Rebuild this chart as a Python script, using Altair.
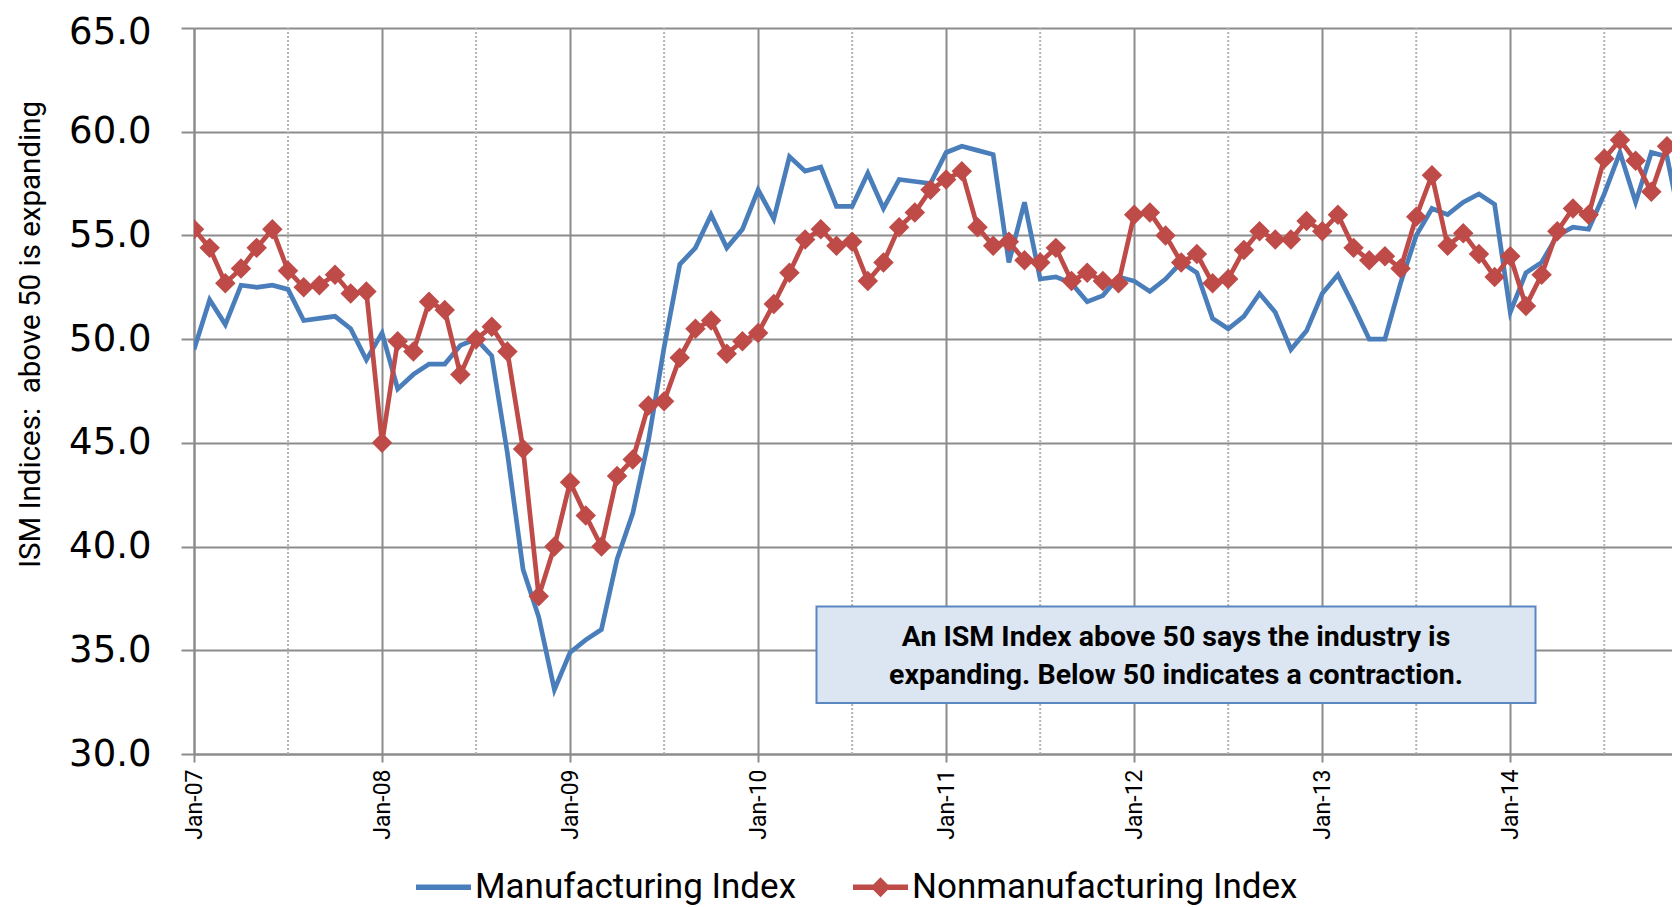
import altair as alt
import pandas as pd

# ---- data (monthly, Jan-2007 onward) ----
manufacturing = [
    49.5, 51.9, 50.7, 52.6, 52.5, 52.6, 52.4, 50.9, 51.0, 51.1, 50.5, 49.0,
    50.3, 47.6, 48.3, 48.8, 48.8, 49.7, 50.0, 49.2, 44.5, 38.9, 36.6, 33.1,
    34.9, 35.5, 36.0, 39.4, 41.6, 45.1, 49.6, 53.6, 54.4, 56.0, 54.4, 55.3,
    57.2, 55.8, 58.8, 58.1, 58.3, 56.4, 56.4, 58.0, 56.3, 57.7, 57.6, 57.5,
    59.0, 59.3, 59.1, 58.9, 53.7, 56.6, 52.9, 53.0, 52.7, 51.8, 52.1, 53.0,
    52.8, 52.3, 52.9, 53.7, 53.2, 51.0, 50.5, 51.1, 52.2, 51.3, 49.5, 50.4,
    52.2, 53.1, 51.6, 50.0, 50.0, 52.7, 55.0, 56.3, 56.0, 56.6, 57.0, 56.5,
    51.3, 53.2, 53.7, 55.0, 55.4, 55.3, 57.0, 59.0, 56.6, 59.0, 58.8, 55.1,
]
nonmanufacturing = [
    55.3, 54.4, 52.7, 53.4, 54.4, 55.3, 53.3, 52.5, 52.6, 53.1, 52.2, 52.3,
    45.0, 49.9, 49.4, 51.8, 51.4, 48.3, 50.0, 50.6, 49.4, 44.7, 37.6, 40.0,
    43.1, 41.5, 40.0, 43.4, 44.2, 46.8, 47.0, 49.1, 50.5, 50.9, 49.3, 49.9,
    50.3, 51.7, 53.2, 54.8, 55.3, 54.5, 54.7, 52.8, 53.7, 55.4, 56.1, 57.2,
    57.7, 58.1, 55.4, 54.5, 54.7, 53.8, 53.7, 54.4, 52.8, 53.2, 52.8, 52.7,
    56.0, 56.1, 55.0, 53.7, 54.1, 52.7, 52.9, 54.3, 55.2, 54.8, 54.8, 55.7,
    55.2, 56.0, 54.4, 53.8, 54.0, 53.4, 55.9, 57.9, 54.5, 55.1, 54.1, 53.0,
    54.0, 51.6, 53.1, 55.2, 56.3, 56.0, 58.7, 59.6, 58.6, 57.1, 59.3,
]
series_names = ["Manufacturing Index", "Nonmanufacturing Index"]
series_colors = ["#4A7EBB", "#BE4B48"]
x_tick_labels = ["Jan-07", "Jan-08", "Jan-09", "Jan-10", "Jan-11", "Jan-12", "Jan-13", "Jan-14"]
x_tick_months = [0, 12, 24, 36, 48, 60, 72, 84]          # month index of each January
mid_year_months = [6, 18, 30, 42, 54, 66, 78, 90]        # July dotted gridlines
y_ticks = [30, 35, 40, 45, 50, 55, 60, 65]
y_title = "ISM Indices:\u00a0 above 50 is expanding"
note_lines = ["An ISM Index above 50 says the industry is",
              "expanding. Below 50 indicates a contraction."]

rows = []
for i, v in enumerate(manufacturing):
    rows.append({"month": i, "series": series_names[0], "value": v})
for i, v in enumerate(nonmanufacturing):
    rows.append({"month": i, "series": series_names[1], "value": v})
df = pd.DataFrame(rows)
df_m = df[df.series == series_names[0]]
df_n = df[df.series == series_names[1]]
df_mid = pd.DataFrame({"month": mid_year_months})
df_note = pd.DataFrame({"note": [" ".join(note_lines)]})

GRID = "#8C8C8C"
label_js = "[" + ",".join("'%s'" % s for s in x_tick_labels) + "]"

PLOT_W = 1478
x_scale = alt.Scale(domain=[0, PLOT_W / 15.67], nice=False, zero=False)
y_scale = alt.Scale(domain=[30, 65], nice=False, zero=False)

x_axis = alt.Axis(
    values=x_tick_months, labelExpr=label_js + "[floor(datum.value/12)]",
    labelAngle=270, labelFont="Roboto", labelFontSize=23, labelColor="#000000",
    labelPadding=7, tickSize=8, tickColor=GRID, tickWidth=2,
    domainColor=GRID, domainWidth=2, gridColor=GRID, gridWidth=2, title=None,
)
y_axis = alt.Axis(
    values=y_ticks, format=".1f", labelFont="DejaVu Sans", labelFontSize=37,
    labelColor="#000000", labelPadding=30, tickSize=13, tickColor=GRID,
    labelOffset={"condition": {"test": "datum.value == 65", "value": 4}, "value": 0},
    tickWidth=2, domainColor=GRID, domainWidth=2, gridColor=GRID, gridWidth=2,
    title=y_title, titleFont="Roboto", titleFontSize=29.5, titleFontWeight="normal",
    titleColor="#000000", titleX=-164, titleY=306, titleAngle=270,
    titleBaseline="middle", titleAlign="center",
)

base_x = alt.X("month:Q", scale=x_scale, axis=x_axis)
base_y = alt.Y("value:Q", scale=y_scale, axis=y_axis)

mid_rules = alt.Chart(df_mid).mark_rule(
    color="#B4B4B4", strokeWidth=2, strokeDash=[2, 2]
).encode(x=alt.X("month:Q", scale=x_scale, axis=x_axis))

line_m = alt.Chart(df_m).mark_line(
    color=series_colors[0], strokeWidth=4.7, clip=True
).encode(x=base_x, y=base_y)

line_n = alt.Chart(df_n).mark_line(
    color=series_colors[1], strokeWidth=4.7, clip=True
).encode(x=base_x, y=base_y)

pts_n = alt.Chart(df_n).mark_point(
    shape="diamond", filled=True, size=420, opacity=1,
    color=series_colors[1], clip=True
).encode(x=base_x, y=base_y)

box = alt.Chart(df_note).mark_rect(
    fill="#DCE6F2", stroke="#5A86C2", strokeWidth=2
).encode(x=alt.value(622.5), x2=alt.value(1341.5), y=alt.value(578.5), y2=alt.value(675))

note = alt.Chart(df_note).mark_text(
    font="Roboto", fontSize=28.5, fontWeight="bold", color="#000000",
    align="center", baseline="middle", lineHeight=38.5
).encode(x=alt.value(982), y=alt.value(608.5), text=alt.value(note_lines))

legend_line = "M-1,-0.1H1V0.1H-1Z"
legend_line_diamond = "M-1,-0.1H1V0.1H-1Z M-0.36,0L0,-0.36L0.36,0L0,0.36Z"

legend_layer = alt.Chart(df).transform_filter("false").mark_point(
    filled=True, opacity=1, size=3025
).encode(
    x=base_x, y=base_y,
    color=alt.Color("series:N", scale=alt.Scale(domain=series_names, range=series_colors),
                    legend=alt.Legend(
                        title=None, orient="none", legendX=222, legendY=831.5,
                        direction="horizontal", symbolSize=3025, symbolStrokeWidth=0,
                        labelFont="Roboto", labelFontSize=35, labelColor="#000000",
                        labelOffset=4, columnPadding=56, labelLimit=600,
                    )),
    shape=alt.Shape("series:N", scale=alt.Scale(domain=series_names,
                                                range=[legend_line, legend_line_diamond])),
)

chart = alt.layer(
    mid_rules, line_m, line_n, pts_n, box, note, legend_layer
).properties(
    width=PLOT_W, height=726,
    autosize=alt.AutoSizeParams(type="none"),
    padding={"left": 186, "top": 20, "right": 0, "bottom": 153},
    background="#FFFFFF",
).configure_view(strokeWidth=0)

chart.save("out.html", embed_options={"renderer": "svg", "actions": False})
